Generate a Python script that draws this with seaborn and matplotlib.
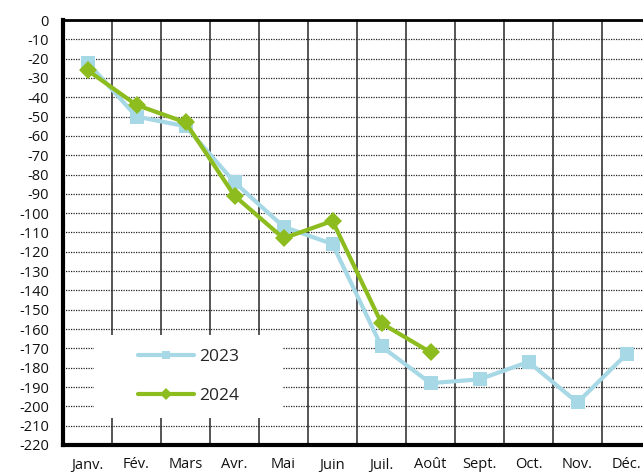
import numpy as np
import pandas as pd
import matplotlib
matplotlib.use('Agg')
import matplotlib.pyplot as plt
from matplotlib.patches import Rectangle
import seaborn as sns

# Données
mois = ['Janv.', 'Fév.', 'Mars', 'Avr.', 'Mai', 'Juin',
        'Juil.', 'Août', 'Sept.', 'Oct.', 'Nov.', 'Déc.']
valeurs_2023 = [-22, -50, -55, -84, -107, -116, -169, -188, -186, -177, -198, -173]
valeurs_2024 = [-26, -44, -53, -91, -113, -104, -157, -172]
y_ticks = list(range(0, -230, -10))

# Format long pour seaborn
data = []
for i, v in enumerate(valeurs_2023):
    data.append({'pos': i, 'valeur': v, 'annee': '2023'})
for i, v in enumerate(valeurs_2024):
    data.append({'pos': i, 'valeur': v, 'annee': '2024'})
df = pd.DataFrame(data)

sns.set_style('white')
plt.rcParams['font.family'] = ['Open Sans', 'DejaVu Sans']

fig = plt.figure(figsize=(6.43, 4.75), dpi=100)
ax = fig.add_axes([63 / 643, 30 / 475, 588 / 643, 425 / 475])

palette = {'2023': '#a6d8e6', '2024': '#8dbc1e'}
sns.lineplot(data=df, x='pos', y='valeur', hue='annee', style='annee',
             palette=palette, markers={'2023': 's', '2024': 'D'},
             dashes=False, linewidth=3, markersize=9.5, markeredgewidth=0,
             ax=ax, zorder=3)

ax.set_xlim(-0.5, 11.5)
ax.set_ylim(-220, 0)
ax.set_xticks(range(len(mois)))
ax.set_xticklabels(mois)
ax.set_xticks(np.arange(0.5, 11.5, 1), minor=True)
ax.set_yticks(y_ticks)
ax.set_yticklabels([str(t) for t in y_ticks])
ax.tick_params(axis='both', which='both', length=0, labelsize=10.5, colors='#111111')
ax.tick_params(axis='x', pad=9)
ax.tick_params(axis='y', pad=10)
ax.set_xlabel('')
ax.set_ylabel('')

# Grilles
ax.grid(False)
ax.xaxis.grid(True, which='minor', color='#555555', linewidth=1.4, linestyle='-')
ax.yaxis.grid(True, which='major', color='#222222', linewidth=0.9, linestyle=(0, (1, 1)))
ax.set_axisbelow(True)

ax.spines['right'].set_visible(False)
ax.spines['left'].set_linewidth(3)
ax.spines['bottom'].set_linewidth(3)
ax.spines['top'].set_linewidth(2)
for side in ['left', 'bottom', 'top']:
    ax.spines[side].set_color('black')

# Fond blanc de la légende
ax.add_patch(Rectangle((0.053, 0.0635), 0.321, 0.195, transform=ax.transAxes,
                       facecolor='white', edgecolor='none', zorder=4))
leg = ax.legend(loc='center', bbox_to_anchor=(0.2134, 0.162), frameon=False,
                fontsize=12.5, handlelength=3.2, labelspacing=1.3,
                markerscale=0.6, borderpad=0.2, handletextpad=0.3)
leg.set_zorder(5)

fig.savefig('out.png', dpi=100)
